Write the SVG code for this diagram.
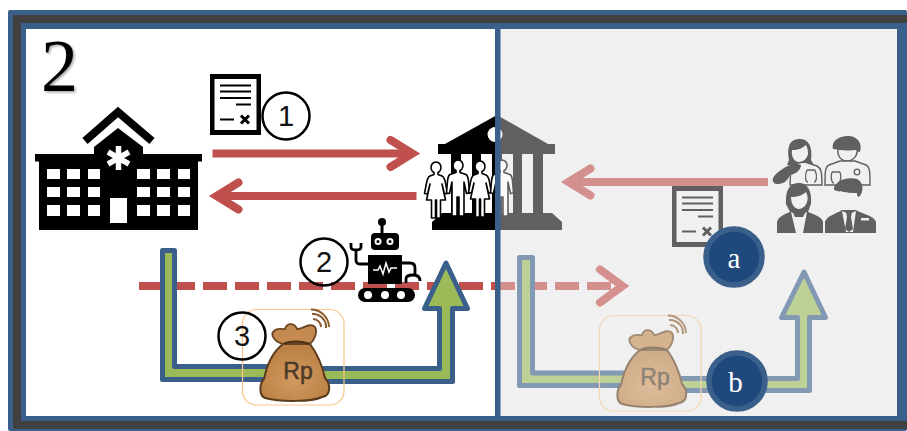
<svg xmlns="http://www.w3.org/2000/svg" width="907" height="431" viewBox="0 0 907 431">
<style>
.blue{fill:#3a5f8b}
.dark{fill:#404040}
.red{fill:none;stroke:#c0504d;stroke-width:8}
.arrow{fill:#9bbb59;stroke:#3a5f8b;stroke-width:5;stroke-linejoin:round}
.ring{fill:none;stroke:#000;stroke-width:2.5}
.digit{font-family:"Liberation Sans",Arial,sans-serif;font-size:29px;text-anchor:middle;fill:#111}
.badge{fill:#1f497d;stroke:#3a5f8b;stroke-width:5.5}
.letter{font-family:"Liberation Serif","Times New Roman",serif;font-size:29px;text-anchor:middle;fill:#fff}
.person{fill:#fff;stroke:#000;stroke-width:1.6;stroke-linejoin:round}
.cut{fill:#f0f0f0}
.out{fill:#f0f0f0;stroke:#000;stroke-width:1.4}
.thin{fill:none;stroke:#000;stroke-width:1.3}
.doc-line{fill:none;stroke:#000;stroke-width:2}
</style>
<defs>
<marker id="chev" markerUnits="userSpaceOnUse" markerWidth="60" markerHeight="60" refX="40" refY="30" orient="auto">
<path d="M18,16.500 L40,30 L18,43.500" fill="none" stroke="#c0504d" stroke-width="8" stroke-linecap="round" stroke-linejoin="miter"/>
</marker>
<radialGradient id="sack" cx="50%" cy="62%" r="55%">
<stop offset="0" stop-color="#d39a60"/><stop offset="1" stop-color="#bb8145"/>
</radialGradient>
<filter id="soft" x="-20%" y="-20%" width="150%" height="150%">
<feDropShadow dx="1.500" dy="1.500" stdDeviation="1.200" flood-color="#000" flood-opacity=".35"/>
</filter>
<g id="doc">
<rect x="210" y="74" width="51" height="5"/>
<rect x="210" y="130" width="51" height="5"/>
<rect x="210" y="74" width="4.500" height="61"/>
<rect x="256.500" y="74" width="4.500" height="61"/>
<path class="doc-line" d="M220,85.500H251M220,91.500H251M220,98H251M236,104.500H251M220,119.500H234"/>
<path d="M241,115.500L249,123.500M249,115.500L241,123.500" fill="none" stroke="#000" stroke-width="3"/>
</g>
<g id="bag">
<rect x="242.500" y="309.500" width="101.500" height="95.500" rx="14" fill="none" stroke="#fbc48a" stroke-width="1.200"/>
<path d="M283,344C274,351 267,364 264,379C259,384 259,396 265,398C280,402 312,402 322,397C331,396 331,384 325,378C322,364 316,352 310,344Z" fill="url(#sack)" stroke="#5a3a18" stroke-width="2"/>
<path d="M283,344C274,342 270,334 274,331C278,327 284,330 285,329C287,322 295,323 297,329C303,329 310,322 315,327C318,332 314,341 310,344Z" fill="#c48a50" stroke="#6a4520" stroke-width="1.800"/>
<path d="M284,343.500C291,341 302,341 310,344" fill="none" stroke="#4a3015" stroke-width="2.200"/>
<text x="298" y="379" font-family="'Liberation Sans',Arial,sans-serif" font-size="23" text-anchor="middle" fill="#4c3a28" stroke="#4c3a28" stroke-width=".5">Rp</text>
<path d="M313,318A8,8 0 0 1 321,326M312,313A13,13 0 0 1 326,327M311,308.500A18,18 0 0 1 329,326" fill="none" stroke="#8a5a2b" stroke-width="2" transform="translate(0,1)"/>
</g>
<path id="woman" class="person" d="M-2,10.500A5,5.500 0 1 1 2,10.500V12.500L6,14C8,15 9,18 9.500,21L11.500,31.500L8.500,32L6,22L9.500,38H4.500V56H0.500V38H-0.500V56H-4.500V38H-9.500L-6,22L-8.500,32L-11.500,31.500L-9.500,21C-9,18 -8,15 -6,14L-2,12.500Z"/>
<path id="man" class="person" d="M-2,10.500A5,5.500 0 1 1 2,10.500V12.500L8,14.500C10,15.500 10,18 10.500,21L11.500,33L8.500,33.500L6,22V36V56H1V37H-1V56H-6V36V22L-8.500,33.500L-11.500,33L-10.500,21C-10,18 -10,15.500 -8,14.500L-2,12.500Z"/>
</defs>

<g id="frame">
<rect x="8" y="10" width="899" height="421" rx="2" class="blue"/>
<path class="dark" d="M13,15H907V23H21V421H907V429H13Z"/>
<rect x="26" y="29" width="471" height="387" fill="#fff"/>
<rect x="497" y="29" width="400" height="387" fill="#f0f0f0"/>
</g>

<g id="connectors">
<path class="red" d="M212.500,153.500H412.500" marker-end="url(#chev)"/>
<path class="red" d="M416.500,196H216.500" marker-end="url(#chev)"/>
<path class="red" d="M768,182H568.500" marker-end="url(#chev)"/>
<path class="red" stroke-dasharray="24 8" d="M139,286H622.500"/>
<path d="M600,269.500L622.500,286L600,302.500" fill="none" stroke="#c0504d" stroke-width="8" stroke-linecap="round"/>
<path class="arrow" d="M162.500,250.500H174.500V366.500H290V368.500H439.500V308.500H424.500L446,263L467.500,308.500H452.500V381.500H290V379.500H162.500Z"/>
<path class="arrow" d="M519.500,257.500H532.500V373H650V378.500H797.500V317.500H781.500L804,272L825.500,317.500H809.500V390.500H650V385.500H519.500Z"/>
</g>

<g id="hospital">
<rect x="35" y="154" width="167" height="7.500"/>
<rect x="39" y="161" width="159" height="69"/>
<path d="M94,154V147L118,128L143,147V154Z"/>
<path d="M85,141L118,112L152,141" fill="none" stroke="#000" stroke-width="8"/>
<path d="M118.500,146V170M108,152L129,164M129,152L108,164" fill="none" stroke="#fff" stroke-width="5.500"/>
<path fill="#fff" d="M47,169h13v10h-13zM67,169h13v10h-13zM88,169h12v10h-12zM137,169h13v10h-13zM157,169h13v10h-13zM178,169h12v10h-12zM47,187h13v10h-13zM67,187h13v10h-13zM88,187h12v10h-12zM137,187h13v10h-13zM157,187h13v10h-13zM178,187h12v10h-12zM47,205h13v11h-13zM67,205h13v11h-13zM88,205h12v11h-12zM137,205h13v11h-13zM157,205h13v11h-13zM178,205h12v11h-12zM110,198h17v25h-17z"/>
</g>

<g id="document-1">
<use href="#doc"/>
<circle class="ring" cx="286" cy="116" r="23.500"/>
<text class="digit" x="286" y="126">1</text>
</g>

<g id="bank">
<path d="M497,115L445,144H438V154H555V144H548Z"/>
<circle cx="495" cy="134.500" r="7.500" fill="#fff"/>
<path d="M451,154h10v59h-10zM472,154h9v59h-9zM492,154h10v59h-10zM513,154h9v59h-9zM533,154h10v59h-10z"/>
<path d="M442,213H552L562,222V230H432V222Z"/>
</g>
<g id="people">
<use href="#woman" x="436" y="162"/>
<use href="#man" x="458" y="160"/>
<use href="#woman" x="480" y="161"/>
<use href="#man" x="502" y="160"/>
</g>

<g id="robot">
<circle class="ring" cx="324" cy="262" r="23.500"/>
<text class="digit" x="324" y="272">2</text>
<circle cx="382" cy="222" r="4"/>
<rect x="380.500" y="224" width="3" height="10"/>
<rect x="371" y="233" width="28" height="17" rx="4"/>
<circle cx="378" cy="241.500" r="3.500" fill="#fff"/><circle cx="390" cy="241.500" r="3.500" fill="#fff"/>
<circle cx="378" cy="241.500" r="1.500"/><circle cx="390" cy="241.500" r="1.500"/>
<rect x="368" y="255" width="34" height="29"/>
<path d="M373,270H378L380,266L383,274L386,263L389,272L391,268H397" fill="none" stroke="#fff" stroke-width="1.500"/>
<path d="M368,264H360Q356,264 356,260V249M351,243V247Q351,250 356,250Q361,250 361,247V243" fill="none" stroke="#000" stroke-width="2.800"/>
<path d="M402,263H410Q415,263 415,268V274M406,283V279Q406,275 413,275Q420,275 420,281" fill="none" stroke="#000" stroke-width="2.800"/>
<rect x="358" y="288" width="57" height="14" rx="7"/>
<circle cx="368" cy="295" r="4" fill="#fff"/><circle cx="385" cy="295" r="4" fill="#fff"/><circle cx="401" cy="295" r="4" fill="#fff"/>
</g>

<g id="moneybag-1">
<use href="#bag"/>
<circle class="ring" cx="242" cy="336" r="23.500"/>
<text class="digit" x="242" y="346">3</text>
</g>

<g id="moneybag-2"><use href="#bag" x="357" y="6"/></g>
<g id="document-2"><use href="#doc" x="462" y="112"/></g>

<g id="doctors">
<path d="M789,160C786,142 793,139 800,139C808,139 813,146 811,160L814,165H787Z"/>
<path class="cut" d="M792,150C798,150 803,148 806,145C808,149 808,152 808,154C807,159 803,162 799,162C795,162 791,158 792,150Z"/>
<path class="out" d="M791,164L805,162L817,166C821,168 822,172 822,185H790Z"/>
<path d="M773,178C776,172 786,166 795,163L801,165C801,170 796,174 790,175C788,180 784,184 778,184C774,184 772,182 773,178Z"/>
<path class="thin" d="M807,170C804,177 806,182 808,182M815,170C818,177 816,182 814,182M807,170H815"/>
<path d="M833,149C831,140 840,136 848,136C856,136 863,142 860,152C853,150 843,151 833,149Z"/>
<path class="out" d="M838,149C845,150 851,150 857,149C858,156 853,161 847,161C841,161 837,156 838,149Z"/>
<path class="out" d="M840,161H855L866,165C870,167 870,172 870,185H825C825,172 825,167 829,165Z"/>
<path class="thin" d="M832,172C830,178 832,183 834,183M840,172C842,178 840,183 838,183M832,172H840"/>
<circle class="thin" cx="857" cy="172" r="2.800"/>
<path d="M786,204C785,187 792,183 799,183C807,183 812,190 811,204L808,212H790Z"/>
<path class="cut" d="M791,197C797,197 803,195 806,192C808,196 808,199 807,202C806,206 802,209 799,209C795,209 791,205 791,197Z"/>
<path d="M777,233V222C778,216 788,213 792,211H806C812,214 822,216 823,222V233C810,233 790,233 777,233Z"/>
<path class="cut" d="M791,212L799,216L807,212L803,233H796Z"/>
<path d="M793,213H805L803,217H795Z"/>
<path d="M834,190C833,181 848,176 857,179C864,182 864,192 859,197C854,192 842,193 834,190Z"/>
<path class="cut" d="M840,191C846,193 852,193 857,193C858,201 855,207 849,207C843,207 839,199 840,191Z"/>
<path d="M825,233V222C826,216 838,213 842,210H856C860,213 875,216 876,222V233C860,233 840,233 825,233Z"/>
<path class="cut" d="M842,211L849,214L856,211L853,232H846Z"/>
<path d="M846,212H852L851,217L853,229L849,232L845,229L847,217Z"/>
<rect class="cut" x="861" y="218" width="8" height="2.500"/>
</g>

<rect id="veil" x="497" y="29" width="400" height="387" fill="#f0f0f0" opacity=".4"/>
<rect id="divider" x="495" y="29" width="5.500" height="387" class="blue"/>

<g id="badge-a">
<circle class="badge" cx="734" cy="257" r="28"/>
<text class="letter" x="734" y="268">a</text>
</g>
<g id="badge-b">
<circle class="badge" cx="737" cy="381" r="28"/>
<text class="letter" x="735.500" y="392">b</text>
</g>
<text id="panel-number" x="41" y="91" font-family="'Liberation Serif','Times New Roman',serif" font-size="74" filter="url(#soft)">2</text>
</svg>
